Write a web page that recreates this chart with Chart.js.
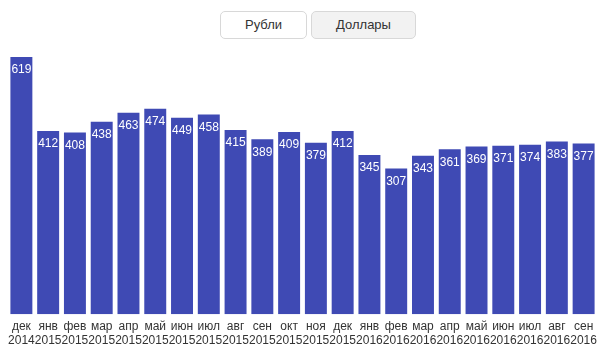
<!DOCTYPE html>
<html>
<head>
<meta charset="utf-8">
<script src="https://cdn.jsdelivr.net/npm/chart.js@4/dist/chart.umd.min.js"></script>
<style>
  html, body { margin: 0; padding: 0; background: #fff; }
  #wrap { position: relative; width: 605px; height: 353px; }
  #chart { position: absolute; left: 0; top: 0; }
  .btn {
    position: absolute; top: 11px; height: 28px; box-sizing: border-box;
    border: 1px solid #d8d8d8; border-radius: 5px;
    font: 13px "Liberation Sans", Arial, sans-serif; color: #333;
    text-align: center; line-height: 26px;
  }
  #rub { left: 220px; width: 87px; background: #fff; }
  #usd { left: 311px; width: 105px; background: #f2f2f2; }
</style>
</head>
<body>
<div id="wrap">
  <canvas id="chart" width="605" height="353"></canvas>
  <div class="btn" id="rub">Рубли</div>
  <div class="btn" id="usd">Доллары</div>
</div>
<script>
"use strict"

const months = ['дек', 'янв', 'фев', 'мар', 'апр', 'май', 'июн', 'июл', 'авг', 'сен', 'окт', 'ноя',
                'дек', 'янв', 'фев', 'мар', 'апр', 'май', 'июн', 'июл', 'авг', 'сен']
const years = ['2014', '2015', '2015', '2015', '2015', '2015', '2015', '2015', '2015', '2015', '2015', '2015',
               '2015', '2016', '2016', '2016', '2016', '2016', '2016', '2016', '2016', '2016']
const values = [619, 412, 408, 438, 463, 474, 449, 458, 415, 389, 409, 379,
                412, 345, 307, 343, 361, 369, 371, 374, 383, 377]

// draws the value inside the top of every bar
const barValues = {
    id: 'barValues',
    afterDatasetsDraw(chart) {
        let ctx = chart.ctx
        let meta = chart.getDatasetMeta(0)
        ctx.save()
        ctx.fillStyle = '#ffffff'
        ctx.font = '12px "Liberation Sans", Arial, sans-serif'
        ctx.textAlign = 'center'
        ctx.textBaseline = 'middle'
        meta.data.forEach((bar, i) => {
            ctx.fillText(values[i], bar.x, bar.y + 13)
        })
        ctx.restore()
    }
}

let ctx = document.getElementById('chart').getContext('2d')
let myChart = new Chart(ctx, {
    type: 'bar',
    data: {
        labels: months.map((m, i) => [m, years[i]]),
        datasets: [{
            data: values,
            base: -100,
            backgroundColor: '#3f4ab4',
            borderWidth: 0,
            barPercentage: 0.82,
            categoryPercentage: 1
        }]
    },
    options: {
        responsive: false,
        animation: false,
        layout: { padding: { left: 8, right: 8, top: 57, bottom: 0 } },
        plugins: { legend: { display: false }, tooltip: { enabled: false } },
        scales: {
            x: {
                grid: { display: false, drawTicks: false },
                border: { display: false },
                ticks: {
                    color: '#333',
                    font: { family: '"Liberation Sans", Arial, sans-serif', size: 12 },
                    padding: 5,
                    maxRotation: 0,
                    autoSkip: false
                }
            },
            y: {
                display: false,
                min: -100,
                max: 619
            }
        }
    },
    plugins: [barValues]
})
</script>
</body>
</html>
